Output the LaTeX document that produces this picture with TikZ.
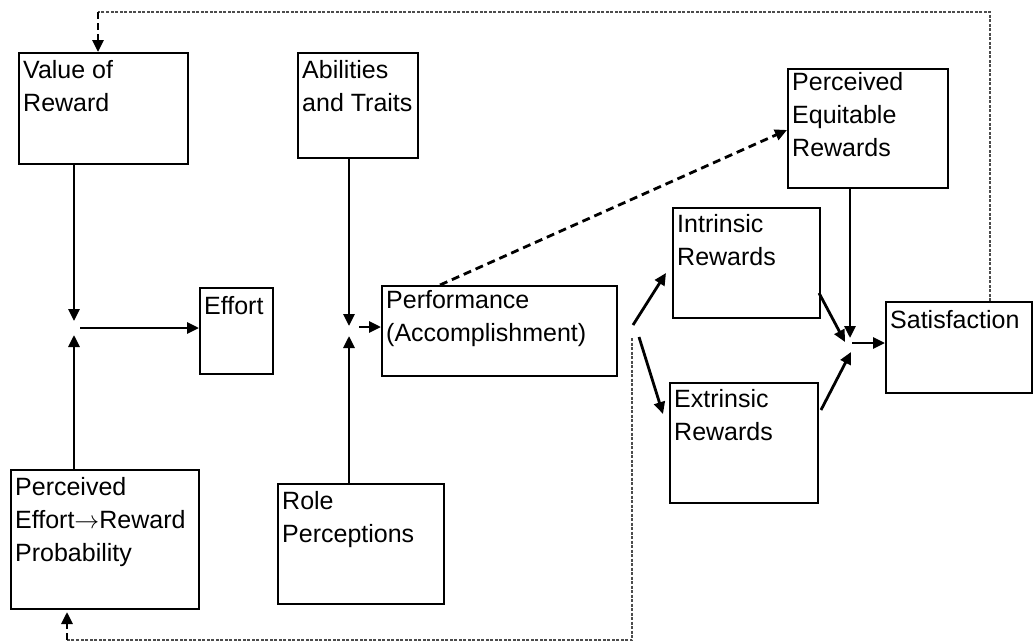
\documentclass[tikz,border=0pt]{standalone}
\usepackage{fontspec}
\setmainfont{Liberation Sans}
\usetikzlibrary{arrows.meta,calc}

% box: #1 name, (#2,#3) top-left corner, (#4,#5) bottom-right corner
\newcommand\flowbox[5]{%
  \node[box, minimum width={#4-#2}, minimum height={#5-#3}] (#1) at (#2,#3) {};}

\begin{document}
\begin{tikzpicture}[x=1pt,y=-1pt,
  box/.style={draw, line width=2pt, anchor=north west, inner sep=0pt},
  % texts are placed by the baseline of their last line
  lbl/.style={anchor=base west, inner sep=0pt, align=left,
              font=\fontsize{25}{33}\selectfont},
  flow/.style={line width=2.8pt, -{Triangle[length=12pt,width=11pt]}},
  feedback/.style={line width=2.8pt, dash pattern=on 7pt off 4pt,
                   -{Triangle[length=12pt,width=11pt]}},
  loopline/.style={line width=1.1pt, draw=black!70, dash pattern=on 3pt off 1.5pt}
]
\useasboundingbox (0,0) rectangle (1034,643);

% ---- boxes ----
\flowbox{vr}{18}{52}{187}{163}
\flowbox{at}{297}{52}{417}{157}
\flowbox{pe}{787}{68}{947}{187}
\flowbox{ef}{199}{287}{272}{373}
\flowbox{pf}{381}{285}{616}{375}
\flowbox{ir}{672}{207}{819}{317}
\flowbox{er}{669}{382}{817}{502}
\flowbox{sa}{885}{301}{1031}{392}
\flowbox{pp}{10}{469}{198}{608}
\flowbox{rp}{277}{483}{443}{603}

% ---- box texts ----
\node[lbl] (vr-t) at (23,111)  {Value of\\Reward};
\node[lbl] (at-t) at (302,111) {Abilities\\and Traits};
\node[lbl] (pe-t) at (792,156) {Perceived\\Equitable\\Rewards};
\node[lbl] (ef-t) at (204,314) {Effort};
\node[lbl] (pf-t) at (386,341) {Performance\\(Accomplishment)};
\node[lbl] (ir-t) at (677,265) {Intrinsic\\Rewards};
\node[lbl] (er-t) at (674,440) {Extrinsic\\Rewards};
\node[lbl] (sa-t) at (890,328) {Satisfaction};
\node[lbl] (pp-t) at (15,561)  {Perceived\\Effort$\rightarrow$Reward\\Probability};
\node[lbl] (rp-t) at (282,542) {Role\\Perceptions};

% ---- junction points ----
\coordinate (j1n) at (74,321);
\coordinate (j1s) at (74,335);
\coordinate (j1e) at (80,328);
\coordinate (j2n) at (349,326);
\coordinate (j2s) at (349,336);
\coordinate (j2e) at (359,327);
\coordinate (j3n) at (850,338);
\coordinate (j3w) at (845,342);
\coordinate (j3s) at (851,352);
\coordinate (j3e) at (852,343);

% ---- effort ----
\draw[flow] (vr.south -| j1n) -- (j1n);
\draw[flow] (pp.north -| j1s) -- (j1s);
\draw[flow] (j1e) -- (ef.west |- j1e);

% ---- performance ----
\draw[flow] (at.south -| j2n) -- (j2n);
\draw[flow] (rp.north -| j2s) -- (j2s);
\draw[flow] (j2e) -- (pf.west |- j2e);

% ---- rewards ----
\coordinate (pfUp)  at (633,325);
\coordinate (pfDn)  at (639,337);
\coordinate (irIn)  at (666,273);
\coordinate (erIn)  at (663,414);
\coordinate (pfTop) at (440,285);
\coordinate (peIn)  at (787,130);
\draw[flow] (pfUp) -- (irIn);
\draw[flow] (pfDn) -- (erIn);
\draw[line width=2.8pt, dash pattern=on 8pt off 5pt,
      -{Triangle[length=12pt,width=11pt]}] (pfTop) -- (peIn);

% ---- satisfaction ----
\coordinate (irOut) at (819,293);
\coordinate (erOut) at (821,410);
\draw[flow] (irOut) -- (j3w);
\draw[flow] (pe.south -| j3n) -- (j3n);
\draw[flow] (erOut) -- (j3s);
\draw[flow] (j3e) -- (sa.west |- j3e);

% ---- feedback loops ----
\coordinate (topL)  at (98,12);
\coordinate (topR)  at (990,12);
\coordinate (pfLow) at (632,338);
\coordinate (botR)  at (632,640);
\coordinate (botL)  at (67,640);
\coordinate (ppIn)  at (67,612);
\draw[loopline] (sa.north -| topR) -- (topR) -- (topL);
\draw[feedback] (topL) -- (vr.north -| topL);
\draw[loopline] (pfLow) -- (botR) -- (botL);
\draw[feedback] (botL) -- (ppIn);
\end{tikzpicture}
\end{document}
